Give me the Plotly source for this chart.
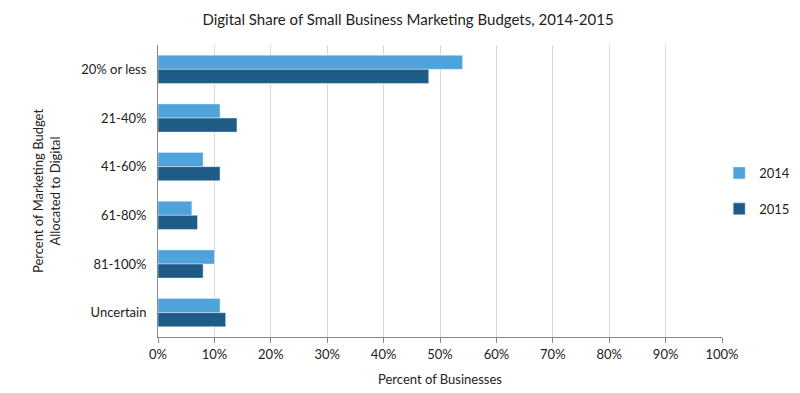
import plotly.graph_objects as go

categories = ["20% or less", "21-40%", "41-60%", "61-80%", "81-100%", "Uncertain"]
values_2014 = [54, 11, 8, 6, 10, 11]
values_2015 = [48, 14, 11, 7, 8, 12]
x_ticks = [0, 10, 20, 30, 40, 50, 60, 70, 80, 90, 100]
x_tick_labels = [f"{v}%" for v in x_ticks]

font_family = "Lato, Open Sans, sans-serif"

fig = go.Figure()
fig.add_trace(go.Bar(y=categories, x=values_2014, name="2014", orientation="h",
                     legendgroup="a", marker=dict(color="#4EA3DA")))
fig.add_trace(go.Bar(y=categories, x=values_2015, name="2015", orientation="h",
                     legendgroup="b", marker=dict(color="#1F5B87")))

fig.update_layout(
    width=800, height=393,
    paper_bgcolor="white", plot_bgcolor="white",
    barmode="group", bargap=0.42, bargroupgap=0,
    font=dict(family=font_family, size=13, color="#222"),
    title=dict(text="Digital Share of Small Business Marketing Budgets, 2014-2015",
               x=0.5, xanchor="center", y=1 - 12 / 393, yanchor="middle",
               font=dict(size=15, color="#222")),
    margin=dict(l=150, r=86, t=37, b=64),
    legend=dict(x=0.995, y=0.5, xanchor="left", yanchor="middle",
                bgcolor="rgba(0,0,0,0)",
                tracegroupgap=16, font=dict(size=13), itemwidth=30),
    showlegend=True,
)
fig.update_xaxes(range=[0, 100], tickvals=x_ticks, ticktext=x_tick_labels,
                 showgrid=True, gridcolor="#D9D9D9", gridwidth=1,
                 showline=True, linecolor="#888", linewidth=1,
                 ticks="outside", ticklen=5, tickcolor="#888",
                 automargin=False,
                 title=dict(text="Percent of Businesses", standoff=14, font=dict(size=13)),
                 zeroline=False)
fig.update_yaxes(autorange="reversed", showline=True, linecolor="#888", linewidth=1,
                 ticks="", showgrid=False, ticklabelstandoff=8,
                 automargin=False,
                 title=dict(text="Percent of Marketing Budget<br>Allocated to Digital",
                            standoff=17, font=dict(size=13)))

fig.write_html("out.html")
